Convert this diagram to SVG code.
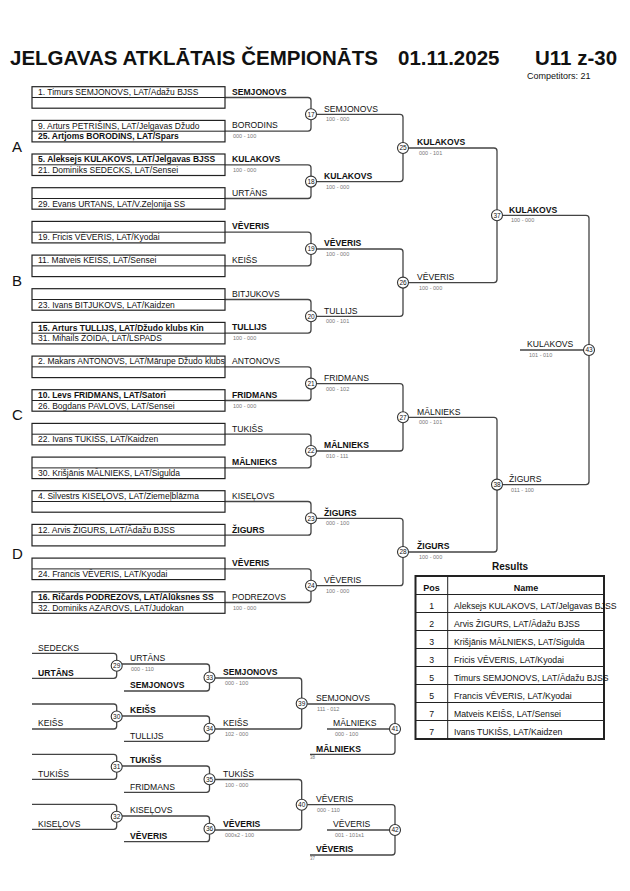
<svg xmlns="http://www.w3.org/2000/svg" width="630" height="891" viewBox="0 0 630 891">
<style>
text{font-family:"Liberation Sans",Arial,sans-serif;fill:#111}
.t{font-size:20.5px;font-weight:bold}
.cmp{font-size:9px}
.pl{font-size:15px}
.e{font-size:8.5px}
.eb{font-size:8.5px;font-weight:bold}
.l{font-size:8.6px}
.lb{font-size:8.6px;font-weight:bold}
.s{font-size:5.5px;fill:#777}
.sm{font-size:4.5px;fill:#777}
.cn{font-size:6.5px;text-anchor:middle}
.box{fill:#fff;stroke:#222;stroke-width:1.2}
.ln{fill:none;stroke:#444;stroke-width:1.3}
.c{fill:#fff;stroke:#333;stroke-width:1.1}
.rh{font-size:9px;font-weight:bold}
.rt{font-size:8.7px}
.grid{stroke:#222;stroke-width:1}
</style>
<defs>
<g id="box"><rect class="box" x="0" y="0" width="193" height="21.5"/><line class="grid" x1="0" y1="10.8" x2="193" y2="10.8"/></g>
</defs>

<g id="title">
<text class="t" x="10" y="65">JELGAVAS ATKLĀTAIS ČEMPIONĀTS</text>
<text class="t" x="398" y="65">01.11.2025</text>
<text class="t" x="535" y="65">U11 z-30</text>
<text class="cmp" x="527" y="79">Competitors: 21</text>
</g>

<g id="pools">
<text class="pl" x="12" y="152">A</text>
<text class="pl" x="12" y="286">B</text>
<text class="pl" x="12" y="420">C</text>
<text class="pl" x="12" y="559">D</text>
</g>

<g id="connectors">
<!-- round 1 -->
<path class="ln" d="M225,97.5 H308 Q311,97.5 311,100.5 V128.1 Q311,131.1 308,131.1 H225"/>
<path class="ln" d="M225,164.8 H308 Q311,164.8 311,167.8 V195.5 Q311,198.5 308,198.5 H225"/>
<path class="ln" d="M225,232.1 H308 Q311,232.1 311,235.1 V262.8 Q311,265.8 308,265.8 H225"/>
<path class="ln" d="M225,299.5 H308 Q311,299.5 311,302.5 V330.1 Q311,333.1 308,333.1 H225"/>
<path class="ln" d="M225,366.8 H308 Q311,366.8 311,369.8 V397.5 Q311,400.5 308,400.5 H225"/>
<path class="ln" d="M225,434.2 H308 Q311,434.2 311,437.2 V464.8 Q311,467.8 308,467.8 H225"/>
<path class="ln" d="M225,501.5 H308 Q311,501.5 311,504.5 V532.2 Q311,535.2 308,535.2 H225"/>
<path class="ln" d="M225,568.8 H308 Q311,568.8 311,571.8 V599.5 Q311,602.5 308,602.5 H225"/>
<!-- round 2 -->
<path class="ln" d="M316.5,114.3 H400 Q403,114.3 403,117.3 V178.6 Q403,181.6 400,181.6 H316.5"/>
<path class="ln" d="M316.5,249 H400 Q403,249 403,252 V313.3 Q403,316.3 400,316.3 H316.5"/>
<path class="ln" d="M316.5,383.6 H400 Q403,383.6 403,386.6 V448 Q403,451 400,451 H316.5"/>
<path class="ln" d="M316.5,518.3 H400 Q403,518.3 403,521.3 V582.7 Q403,585.7 400,585.7 H316.5"/>
<!-- round 3 -->
<path class="ln" d="M408.5,148 H494 Q497,148 497,151 V279.6 Q497,282.6 494,282.6 H408.5"/>
<path class="ln" d="M408.5,417.3 H494 Q497,417.3 497,420.3 V549 Q497,552 494,552 H408.5"/>
<!-- round 4 -->
<path class="ln" d="M502.5,215.3 H586 Q589,215.3 589,218.3 V481.6 Q589,484.6 586,484.6 H502.5"/>
<path class="ln" d="M520,350 H583.5"/>
<!-- repechage -->
<path class="ln" d="M32,653.3 H113.7 Q116.7,653.3 116.7,656.3 V675.3 Q116.7,678.3 113.7,678.3 H32"/>
<path class="ln" d="M32,704 H113.7 Q116.7,704 116.7,707 V726 Q116.7,729 113.7,729 H32"/>
<path class="ln" d="M32,754.3 H113.7 Q116.7,754.3 116.7,757.3 V776.3 Q116.7,779.3 113.7,779.3 H32"/>
<path class="ln" d="M32,804.3 H113.7 Q116.7,804.3 116.7,807.3 V826.3 Q116.7,829.3 113.7,829.3 H32"/>
<path class="ln" d="M122,664 H206.5 Q209.5,664 209.5,667 V688 Q209.5,691 206.5,691 H124"/>
<path class="ln" d="M122,716 H206.5 Q209.5,716 209.5,719 V738.3 Q209.5,741.3 206.5,741.3 H124"/>
<path class="ln" d="M122,766 H206.5 Q209.5,766 209.5,769 V789.3 Q209.5,792.3 206.5,792.3 H124"/>
<path class="ln" d="M122,816 H206.5 Q209.5,816 209.5,819 V838.7 Q209.5,841.7 206.5,841.7 H124"/>
<path class="ln" d="M215,678 H298.7 Q301.7,678 301.7,681 V726 Q301.7,729 298.7,729 H215"/>
<path class="ln" d="M215,779.5 H298.7 Q301.7,779.5 301.7,782.5 V827 Q301.7,830 298.7,830 H215"/>
<path class="ln" d="M307.2,704 H392 Q395,704 395,707 V751.3 Q395,754.3 392,754.3 H310"/>
<path class="ln" d="M327,729 H389.5"/>
<path class="ln" d="M307.2,804.7 H392 Q395,804.7 395,807.7 V852 Q395,855 392,855 H310"/>
<path class="ln" d="M327,830 H389.5"/>
</g>

<g id="entries">
<use href="#box" x="32" y="86.7"/>
<text class="e" x="38" y="94.9">1. Timurs SEMJONOVS, LAT/Adažu BJSS</text>
<use href="#box" x="32" y="120.4"/>
<text class="e" x="38" y="128.6">9. Arturs PETRIŠINS, LAT/Jelgavas Džudo</text>
<text class="eb" x="38" y="139.4">25. Artjoms BORODINS, LAT/Spars</text>
<use href="#box" x="32" y="154"/>
<text class="eb" x="38" y="162.2">5. Aleksejs KULAKOVS, LAT/Jelgavas BJSS</text>
<text class="e" x="38" y="173">21. Dominiks SEDECKS, LAT/Sensei</text>
<use href="#box" x="32" y="187.7"/>
<text class="e" x="38" y="206.7">29. Evans URTANS, LAT/V.Zeļonija SS</text>
<use href="#box" x="32" y="221.4"/>
<text class="e" x="38" y="240.4">19. Fricis VĒVERIS, LAT/Kyodai</text>
<use href="#box" x="32" y="255.1"/>
<text class="e" x="38" y="263.3">11. Matveis KEIŠS, LAT/Sensei</text>
<use href="#box" x="32" y="288.7"/>
<text class="e" x="38" y="307.7">23. Ivans BITJUKOVS, LAT/Kaidzen</text>
<use href="#box" x="32" y="322.4"/>
<text class="eb" x="38" y="330.6">15. Arturs TULLIJS, LAT/Džudo klubs Kin</text>
<text class="e" x="38" y="341.4">31. Mihails ŽOIDA, LAT/LSPADS</text>
<use href="#box" x="32" y="356.1"/>
<text class="e" x="38" y="364.3">2. Makars ANTONOVS, LAT/Mārupe Džudo klubs</text>
<use href="#box" x="32" y="389.7"/>
<text class="eb" x="38" y="397.9">10. Levs FRIDMANS, LAT/Satori</text>
<text class="e" x="38" y="408.7">26. Bogdans PAVLOVS, LAT/Sensei</text>
<use href="#box" x="32" y="423.4"/>
<text class="e" x="38" y="442.4">22. Ivans TUKIŠS, LAT/Kaidzen</text>
<use href="#box" x="32" y="457.1"/>
<text class="e" x="38" y="476.1">30. Krišjānis MĀLNIEKS, LAT/Sigulda</text>
<use href="#box" x="32" y="490.7"/>
<text class="e" x="38" y="498.9">4. Silvestrs KISEĻOVS, LAT/Ziemeļblāzma</text>
<use href="#box" x="32" y="524.4"/>
<text class="e" x="38" y="532.6">12. Arvis ŽIGURS, LAT/Ādažu BJSS</text>
<use href="#box" x="32" y="558.1"/>
<text class="e" x="38" y="577.1">24. Francis VĒVERIS, LAT/Kyodai</text>
<use href="#box" x="32" y="591.8"/>
<text class="eb" x="38" y="600">16. Ričards PODREZOVS, LAT/Alūksnes SS</text>
<text class="e" x="38" y="610.8">32. Dominiks AZAROVS, LAT/Judokan</text>
</g>

<g id="labels">
<text class="lb" x="232" y="94.8">SEMJONOVS</text>
<text class="l" x="232" y="128.4">BORODINS</text><text class="s" x="233" y="138.3">000 - 100</text>
<text class="lb" x="232" y="162.1">KULAKOVS</text><text class="s" x="233" y="171.8">100 - 000</text>
<text class="l" x="232" y="195.8">URTĀNS</text>
<text class="lb" x="232" y="229.4">VĒVERIS</text>
<text class="l" x="232" y="263.1">KEIŠS</text>
<text class="l" x="232" y="296.8">BITJUKOVS</text>
<text class="lb" x="232" y="330.4">TULLIJS</text><text class="s" x="233" y="340.1">100 - 000</text>
<text class="l" x="232" y="364.1">ANTONOVS</text>
<text class="lb" x="232" y="397.8">FRIDMANS</text><text class="s" x="233" y="407.5">100 - 000</text>
<text class="l" x="232" y="431.5">TUKIŠS</text>
<text class="lb" x="232" y="465.1">MĀLNIEKS</text>
<text class="l" x="232" y="498.8">KISEĻOVS</text>
<text class="lb" x="232" y="532.5">ŽIGURS</text>
<text class="lb" x="232" y="566.1">VĒVERIS</text>
<text class="l" x="232" y="599.8">PODREZOVS</text><text class="s" x="233" y="609.5">100 - 000</text>

<text class="l" x="324" y="111.6">SEMJONOVS</text><text class="s" x="326" y="121.3">100 - 000</text>
<text class="lb" x="324" y="178.9">KULAKOVS</text><text class="s" x="326" y="188.6">100 - 000</text>
<text class="lb" x="324" y="246.3">VĒVERIS</text><text class="s" x="326" y="256">100 - 000</text>
<text class="l" x="324" y="313.6">TULLIJS</text><text class="s" x="326" y="323.3">000 - 101</text>
<text class="l" x="324" y="380.9">FRIDMANS</text><text class="s" x="326" y="390.6">000 - 102</text>
<text class="lb" x="324" y="448.3">MĀLNIEKS</text><text class="s" x="326" y="458">010 - 111</text>
<text class="lb" x="324" y="515.6">ŽIGURS</text><text class="s" x="326" y="525.3">000 - 100</text>
<text class="l" x="324" y="583">VĒVERIS</text><text class="s" x="326" y="592.7">100 - 000</text>

<text class="lb" x="417" y="145.3">KULAKOVS</text><text class="s" x="419" y="155">000 - 101</text>
<text class="l" x="417" y="279.9">VĒVERIS</text><text class="s" x="419" y="289.6">100 - 000</text>
<text class="l" x="417" y="414.6">MĀLNIEKS</text><text class="s" x="419" y="424.3">000 - 101</text>
<text class="lb" x="417" y="549.3">ŽIGURS</text><text class="s" x="419" y="559">100 - 000</text>

<text class="lb" x="509" y="212.6">KULAKOVS</text><text class="s" x="511" y="222.3">100 - 000</text>
<text class="l" x="509" y="481.9">ŽIGURS</text><text class="s" x="511" y="491.6">011 - 100</text>

<text class="l" x="527" y="346.5">KULAKOVS</text><text class="s" x="529" y="356.5">101 - 010</text>

<!-- repechage -->
<text class="l" x="38" y="650.6">SEDECKS</text>
<text class="lb" x="38" y="675.6">URTĀNS</text>
<text class="l" x="38" y="726.3">KEIŠS</text>
<text class="l" x="38" y="776.6">TUKIŠS</text>
<text class="l" x="38" y="826.6">KISEĻOVS</text>

<text class="l" x="130" y="661.3">URTĀNS</text><text class="s" x="131" y="671">000 - 110</text>
<text class="lb" x="130" y="688.3">SEMJONOVS</text>
<text class="lb" x="130" y="713.3">KEIŠS</text>
<text class="l" x="130" y="738.6">TULLIJS</text>
<text class="lb" x="130" y="763.3">TUKIŠS</text>
<text class="l" x="130" y="789.6">FRIDMANS</text>
<text class="l" x="130" y="813.3">KISEĻOVS</text>
<text class="lb" x="130" y="839">VĒVERIS</text>

<text class="lb" x="223" y="675.3">SEMJONOVS</text><text class="s" x="225" y="685">000 - 100</text>
<text class="l" x="223" y="726.3">KEIŠS</text><text class="s" x="225" y="736">102 - 000</text>
<text class="l" x="223" y="776.8">TUKIŠS</text><text class="s" x="225" y="786.5">100 - 000</text>
<text class="lb" x="223" y="827.3">VĒVERIS</text><text class="s" x="225" y="837">000s2 - 100</text>

<text class="l" x="316" y="701.3">SEMJONOVS</text><text class="s" x="317" y="711">111 - 012</text>
<text class="l" x="333" y="726.3">MĀLNIEKS</text><text class="s" x="335" y="736">000 - 100</text>
<text class="lb" x="316" y="751.6">MĀLNIEKS</text><text class="sm" x="310" y="759">38</text>
<text class="l" x="316" y="802">VĒVERIS</text><text class="s" x="317" y="811.7">000 - 110</text>
<text class="l" x="333" y="827.3">VĒVERIS</text><text class="s" x="335" y="837">001 - 101s1</text>
<text class="lb" x="316" y="852.3">VĒVERIS</text><text class="sm" x="310" y="860">37</text>
</g>

<g id="m17"><circle class="c" cx="311" cy="114.3" r="5.5"/><text class="cn" x="311" y="116.6">17</text></g>
<g id="m18"><circle class="c" cx="311" cy="181.6" r="5.5"/><text class="cn" x="311" y="183.9">18</text></g>
<g id="m19"><circle class="c" cx="311" cy="249" r="5.5"/><text class="cn" x="311" y="251.3">19</text></g>
<g id="m20"><circle class="c" cx="311" cy="316.3" r="5.5"/><text class="cn" x="311" y="318.6">20</text></g>
<g id="m21"><circle class="c" cx="311" cy="383.6" r="5.5"/><text class="cn" x="311" y="385.9">21</text></g>
<g id="m22"><circle class="c" cx="311" cy="451" r="5.5"/><text class="cn" x="311" y="453.3">22</text></g>
<g id="m23"><circle class="c" cx="311" cy="518.3" r="5.5"/><text class="cn" x="311" y="520.6">23</text></g>
<g id="m24"><circle class="c" cx="311" cy="585.7" r="5.5"/><text class="cn" x="311" y="588">24</text></g>
<g id="m25"><circle class="c" cx="403" cy="148" r="5.5"/><text class="cn" x="403" y="150.3">25</text></g>
<g id="m26"><circle class="c" cx="403" cy="282.6" r="5.5"/><text class="cn" x="403" y="284.9">26</text></g>
<g id="m27"><circle class="c" cx="403" cy="417.3" r="5.5"/><text class="cn" x="403" y="419.6">27</text></g>
<g id="m28"><circle class="c" cx="403" cy="552" r="5.5"/><text class="cn" x="403" y="554.3">28</text></g>
<g id="m37"><circle class="c" cx="497" cy="215.3" r="5.5"/><text class="cn" x="497" y="217.6">37</text></g>
<g id="m38"><circle class="c" cx="497" cy="484.6" r="5.5"/><text class="cn" x="497" y="486.9">38</text></g>
<g id="m43"><circle class="c" cx="589" cy="350" r="5.5"/><text class="cn" x="589" y="352.3">43</text></g>
<g id="m29"><circle class="c" cx="116.7" cy="665.8" r="5.5"/><text class="cn" x="116.7" y="668.1">29</text></g>
<g id="m30"><circle class="c" cx="116.7" cy="716.5" r="5.5"/><text class="cn" x="116.7" y="718.8">30</text></g>
<g id="m31"><circle class="c" cx="116.7" cy="766.8" r="5.5"/><text class="cn" x="116.7" y="769.1">31</text></g>
<g id="m32"><circle class="c" cx="116.7" cy="816.8" r="5.5"/><text class="cn" x="116.7" y="819.1">32</text></g>
<g id="m33"><circle class="c" cx="209.5" cy="677.5" r="5.5"/><text class="cn" x="209.5" y="679.8">33</text></g>
<g id="m34"><circle class="c" cx="209.5" cy="728.7" r="5.5"/><text class="cn" x="209.5" y="731">34</text></g>
<g id="m35"><circle class="c" cx="209.5" cy="779.2" r="5.5"/><text class="cn" x="209.5" y="781.5">35</text></g>
<g id="m36"><circle class="c" cx="209.5" cy="828.8" r="5.5"/><text class="cn" x="209.5" y="831.1">36</text></g>
<g id="m39"><circle class="c" cx="301.7" cy="703.5" r="5.5"/><text class="cn" x="301.7" y="705.8">39</text></g>
<g id="m40"><circle class="c" cx="301.7" cy="804.7" r="5.5"/><text class="cn" x="301.7" y="807">40</text></g>
<g id="m41"><circle class="c" cx="395" cy="729" r="5.5"/><text class="cn" x="395" y="731.3">41</text></g>
<g id="m42"><circle class="c" cx="395" cy="830" r="5.5"/><text class="cn" x="395" y="832.3">42</text></g>

<g id="results">
<text x="510" y="570" style="font-size:10px;font-weight:bold" text-anchor="middle">Results</text>
<rect x="415.5" y="576" width="188.5" height="163" fill="#fff" stroke="#222" stroke-width="2"/>
<line class="grid" x1="447.7" y1="576" x2="447.7" y2="739"/>
<line class="grid" x1="415.5" y1="594.5" x2="604" y2="594.5"/>
<line class="grid" x1="415.5" y1="612.5" x2="604" y2="612.5"/>
<line class="grid" x1="415.5" y1="630.5" x2="604" y2="630.5"/>
<line class="grid" x1="415.5" y1="648.5" x2="604" y2="648.5"/>
<line class="grid" x1="415.5" y1="666.5" x2="604" y2="666.5"/>
<line class="grid" x1="415.5" y1="684.5" x2="604" y2="684.5"/>
<line class="grid" x1="415.5" y1="702.5" x2="604" y2="702.5"/>
<line class="grid" x1="415.5" y1="720.5" x2="604" y2="720.5"/>
<text class="rh" x="431.6" y="591" text-anchor="middle">Pos</text>
<text class="rh" x="526" y="591" text-anchor="middle">Name</text>
<text class="rt" x="431.6" y="609" text-anchor="middle">1</text><text class="rt" x="454" y="609">Aleksejs KULAKOVS, LAT/Jelgavas BJSS</text>
<text class="rt" x="431.6" y="627" text-anchor="middle">2</text><text class="rt" x="454" y="627">Arvis ŽIGURS, LAT/Ādažu BJSS</text>
<text class="rt" x="431.6" y="645" text-anchor="middle">3</text><text class="rt" x="454" y="645">Krišjānis MĀLNIEKS, LAT/Sigulda</text>
<text class="rt" x="431.6" y="663" text-anchor="middle">3</text><text class="rt" x="454" y="663">Fricis VĒVERIS, LAT/Kyodai</text>
<text class="rt" x="431.6" y="681" text-anchor="middle">5</text><text class="rt" x="454" y="681">Timurs SEMJONOVS, LAT/Ādažu BJSS</text>
<text class="rt" x="431.6" y="699" text-anchor="middle">5</text><text class="rt" x="454" y="699">Francis VĒVERIS, LAT/Kyodai</text>
<text class="rt" x="431.6" y="717" text-anchor="middle">7</text><text class="rt" x="454" y="717">Matveis KEIŠS, LAT/Sensei</text>
<text class="rt" x="431.6" y="735" text-anchor="middle">7</text><text class="rt" x="454" y="735">Ivans TUKIŠS, LAT/Kaidzen</text>
</g>
</svg>
